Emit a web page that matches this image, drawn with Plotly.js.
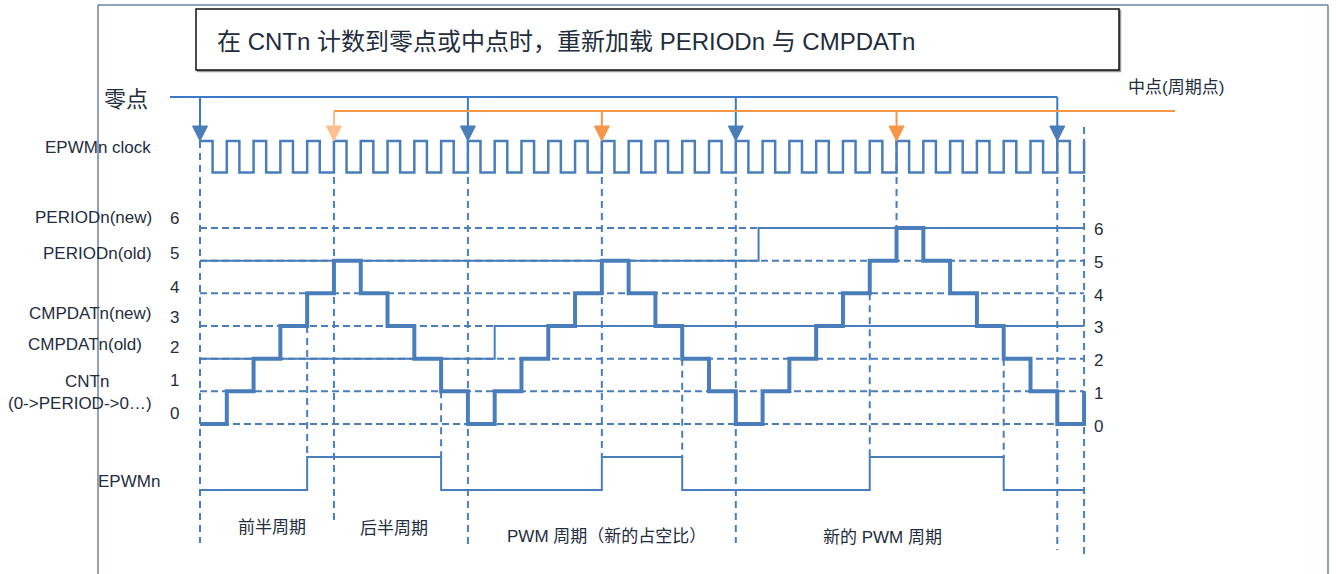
<!DOCTYPE html>
<html>
<head>
<meta charset="utf-8">
<script src="https://cdn.plot.ly/plotly-3.0.1.min.js"></script>
<style>
html,body{margin:0;padding:0;background:#ffffff;}
#chart{width:1336px;height:574px;}
</style>
</head>
<body>
<div id="chart"></div>
<script>
// ================= DATA =================
// time axis unit = one EPWMn clock period
const clockTimes  = [0,0.47,1,1.47,2,2.47,3,3.47,4,4.47,5,5.47,6,6.47,7,7.47,8,8.47,9,9.47,10,10.47,11,11.47,12,12.47,13,13.47,14,14.47,15,15.47,16,16.47,17,17.47,18,18.47,19,19.47,20,20.47,21,21.47,22,22.47,23,23.47,24,24.47,25,25.47,26,26.47,27,27.47,28,28.47,29,29.47,30,30.47,31,31.47,32,32.47,33];
const clockLevels = [1,0,1,0,1,0,1,0,1,0,1,0,1,0,1,0,1,0,1,0,1,0,1,0,1,0,1,0,1,0,1,0,1,0,1,0,1,0,1,0,1,0,1,0,1,0,1,0,1,0,1,0,1,0,1,0,1,0,1,0,1,0,1,0,1,0,1];

const cntTimes  = [0,1,2,3,4,5,6,7,8,9,10,11,12,13,14,15,16,17,18,19,20,21,22,23,24,25,26,27,28,29,30,31,32,33];
const cntValues = [0,1,2,3,4,5,4,3,2,1,0,1,2,3,4,5,4,3,2,1,0,1,2,3,4,5,6,5,4,3,2,1,0,1];

const periodTimes  = [0, 20.85, 33];
const periodValues = [5, 6, 6];
const cmpTimes  = [0, 11, 33];
const cmpValues = [2, 3, 3];

const epwmTimes  = [0, 4, 9, 15, 18, 25, 30, 33];
const epwmValues = [0, 1, 0, 1, 0, 1, 0, 0];

const zeroEvents = [0, 10, 20, 32];
const midEvents  = [5, 15, 26];
const edgeEvents = [4, 9, 18, 25, 30];
const endEvent   = 33;

const levels      = [0, 1, 2, 3, 4, 5, 6];
const levelLabels = ['0', '1', '2', '3', '4', '5', '6'];

const titleText   = '在 CNTn 计数到零点或中点时，重新加载 PERIODn 与 CMPDATn';
const zeroLabel   = '零点';
const midLabel    = '中点(周期点)';
const clockLabel  = 'EPWMn clock';
const epwmLabel   = 'EPWMn';
const signalNames = ['PERIODn(new)', 'PERIODn(old)', 'CMPDATn(new)', 'CMPDATn(old)', 'CNTn', '(0->PERIOD->0…)'];
const phaseLabels = ['前半周期', '后半周期', 'PWM 周期（新的占空比）', '新的 PWM 周期'];

// ================= LAYOUT / STYLE =================
const W = 1336, H = 574;
const X0PX = 200, XUNIT = 26.79;                  // time axis
const CNT0PX = 424, CNTUNIT = 32.67;              // counter lane
const CLK0PX = 172.5, CLKUNIT = 31.5;             // clock lane
const PWM0PX = 490, PWMUNIT = 33;                 // EPWMn lane
const BLUE = '#4a7ebb', BLUE_BRIGHT = '#3b7bc6', ORANGE = '#f79646', ORANGE_LIGHT = '#fbc08e';
const TXT = '#1f2d3d';
const FONT = 'Liberation Sans, Arial, Noto Sans CJK SC, sans-serif';
const CJK = 'Noto Sans CJK SC, Liberation Sans, sans-serif';
const LBL = 17;

const px2px = v => v / W;
const py2py = v => 1 - v / H;
const clkV = py => (CLK0PX - py) / CLKUNIT;      // pixel -> clock-lane value

const zeroLineV = clkV(97), midLineV = clkV(111), triTopV = clkV(126);
const triHalf = 7.5 / XUNIT;
const zeroStartX = (170 - X0PX) / XUNIT, midEndX = (1175 - X0PX) / XUNIT;

const traces = [];

// dashed horizontal grid for every counter level
{
  const x = [], y = [];
  levels.forEach(l => { x.push(0, endEvent, null); y.push(l, l, null); });
  traces.push({x, y, yaxis:'y', mode:'lines', line:{color:BLUE, width:2, dash:'7px,4px'}, hoverinfo:'skip'});
}
// PERIOD and CMPDAT solid lines
traces.push({x:periodTimes, y:periodValues, yaxis:'y', mode:'lines', line:{color:BLUE, width:2, shape:'hv'}, hoverinfo:'skip'});
traces.push({x:cmpTimes, y:cmpValues, yaxis:'y', mode:'lines', line:{color:BLUE, width:2, shape:'hv'}, hoverinfo:'skip'});
// counter
traces.push({x:cntTimes, y:cntValues, yaxis:'y', mode:'lines', line:{color:BLUE, width:4, shape:'hv'}, hoverinfo:'skip'});
// clock
traces.push({x:clockTimes, y:clockLevels, yaxis:'y2', mode:'lines', line:{color:BLUE, width:2.5, shape:'hv'}, hoverinfo:'skip'});
// EPWMn
traces.push({x:epwmTimes, y:epwmValues, yaxis:'y3', mode:'lines', line:{color:BLUE, width:2, shape:'hv'}, hoverinfo:'skip'});

// zero-point line + stems
{
  const x = [zeroStartX, zeroEvents[zeroEvents.length-1], null], y = [zeroLineV, zeroLineV, null];
  zeroEvents.forEach(e => { x.push(e, e, null); y.push(zeroLineV, triTopV, null); });
  traces.push({x, y, yaxis:'y2', mode:'lines', line:{color:BLUE_BRIGHT, width:2}, hoverinfo:'skip'});
}
// mid-point line + stems
traces.push({x:[midEvents[0], midEndX], y:[midLineV, midLineV], yaxis:'y2', mode:'lines', line:{color:ORANGE, width:2}, hoverinfo:'skip'});
midEvents.forEach((e, i) => {
  traces.push({x:[e, e], y:[midLineV, triTopV], yaxis:'y2', mode:'lines', line:{color:i === 0 ? ORANGE_LIGHT : ORANGE, width:2}, hoverinfo:'skip'});
});
// arrow heads
function tri(e, color) {
  traces.push({x:[e - triHalf, e + triHalf, e, e - triHalf], y:[triTopV, triTopV, 1, triTopV], yaxis:'y2',
    mode:'lines', fill:'toself', fillcolor:color, line:{color:color, width:1}, hoverinfo:'skip'});
}
zeroEvents.forEach(e => tri(e, BLUE));
midEvents.forEach((e, i) => tri(e, i === 0 ? ORANGE_LIGHT : ORANGE));

// ---- shapes ----
const shapes = [];
// outer frame
const FRAME = '#7082a8';
shapes.push({type:'line', xref:'paper', yref:'paper', x0:px2px(98), x1:px2px(98), y0:py2py(5), y1:py2py(H), line:{color:FRAME, width:1.5}});
shapes.push({type:'line', xref:'paper', yref:'paper', x0:px2px(98), x1:px2px(1328), y0:py2py(5), y1:py2py(5), line:{color:FRAME, width:1.5}});
shapes.push({type:'line', xref:'paper', yref:'paper', x0:px2px(1328), x1:px2px(1328), y0:py2py(5), y1:py2py(H), line:{color:FRAME, width:1.5}});
// title box with slight shadow
shapes.push({type:'rect', xref:'paper', yref:'paper', x0:px2px(197.5), x1:px2px(1120.5), y0:py2py(10.5), y1:py2py(71.5), line:{color:'#9a9a9a', width:1.5}, fillcolor:'#9a9a9a'});
shapes.push({type:'rect', xref:'paper', yref:'paper', x0:px2px(196), x1:px2px(1119), y0:py2py(9), y1:py2py(70), line:{color:'#111111', width:1.5}, fillcolor:'#ffffff'});

// vertical dashed guides (pixel extents are layout)
function guide(xv, topPx, botPx) {
  shapes.push({type:'line', xref:'x', yref:'paper', x0:xv, x1:xv, y0:py2py(topPx), y1:py2py(botPx), layer:'below',
    line:{color:BLUE, width:2, dash:'7px,5px'}});
}
const zeroBottoms = [543, 544, 543, 550];
zeroEvents.forEach((e, i) => guide(e, 141, zeroBottoms[i]));
const midBottoms = [523, 457, 228];
midEvents.forEach((e, i) => guide(e, 141, midBottoms[i]));
guide(endEvent, 127, 555);
edgeEvents.forEach(e => {
  const i = cntTimes.indexOf(e);
  const lvl = Math.min(cntValues[i], cntValues[i - 1]);
  guide(e, CNT0PX - CNTUNIT * lvl, 457);
});

// ---- annotations ----
const ann = [];
function txt(text, xpx, ypx, xanchor, size, font) {
  ann.push({text, xref:'paper', yref:'paper', x:px2px(xpx), y:py2py(ypx), xanchor, yanchor:'middle',
    showarrow:false, font:{family:font || FONT, size, color:TXT}});
}
txt(titleText, 215, 42, 'left', 24);
txt(zeroLabel, 126, 97, 'center', 22, CJK);
txt(midLabel, 1126, 88, 'left', LBL);
txt(clockLabel, 153, 147, 'right', LBL);
txt(epwmLabel, 96, 481, 'left', LBL);
const signalPos = [[154, 217, 'right'], [154, 253, 'right'], [153, 313, 'right'], [144, 345, 'right'], [87, 381, 'center'], [80, 403, 'center']];
signalNames.forEach((s, i) => txt(s, signalPos[i][0], signalPos[i][1], signalPos[i][2], LBL));
const leftDigitY = [413, 380, 347, 317, 287, 253, 218];
levelLabels.forEach((s, i) => txt(s, 174, leftDigitY[i], 'center', LBL));
levelLabels.forEach((s, i) => txt(s, 1098, CNT0PX - CNTUNIT * levels[i] + 2, 'center', LBL));
const phasePos = [[272, 527], [394, 528], [606, 536], [883, 537]];
phaseLabels.forEach((s, i) => txt(s, phasePos[i][0], phasePos[i][1], 'center', LBL));

const layout = {
  width: W, height: H,
  margin: {l:0, r:0, t:0, b:0, pad:0},
  paper_bgcolor: '#ffffff', plot_bgcolor: '#ffffff',
  showlegend: false,
  xaxis: {range:[-X0PX / XUNIT, (W - X0PX) / XUNIT], visible:false, fixedrange:true},
  yaxis: {range:[(CNT0PX - H) / CNTUNIT, CNT0PX / CNTUNIT], visible:false, fixedrange:true},
  yaxis2: {range:[(CLK0PX - H) / CLKUNIT, CLK0PX / CLKUNIT], visible:false, overlaying:'y', fixedrange:true},
  yaxis3: {range:[(PWM0PX - H) / PWMUNIT, PWM0PX / PWMUNIT], visible:false, overlaying:'y', fixedrange:true},
  shapes, annotations: ann
};

Plotly.newPlot('chart', traces, layout, {displayModeBar:false, staticPlot:true});
</script>
</body>
</html>
